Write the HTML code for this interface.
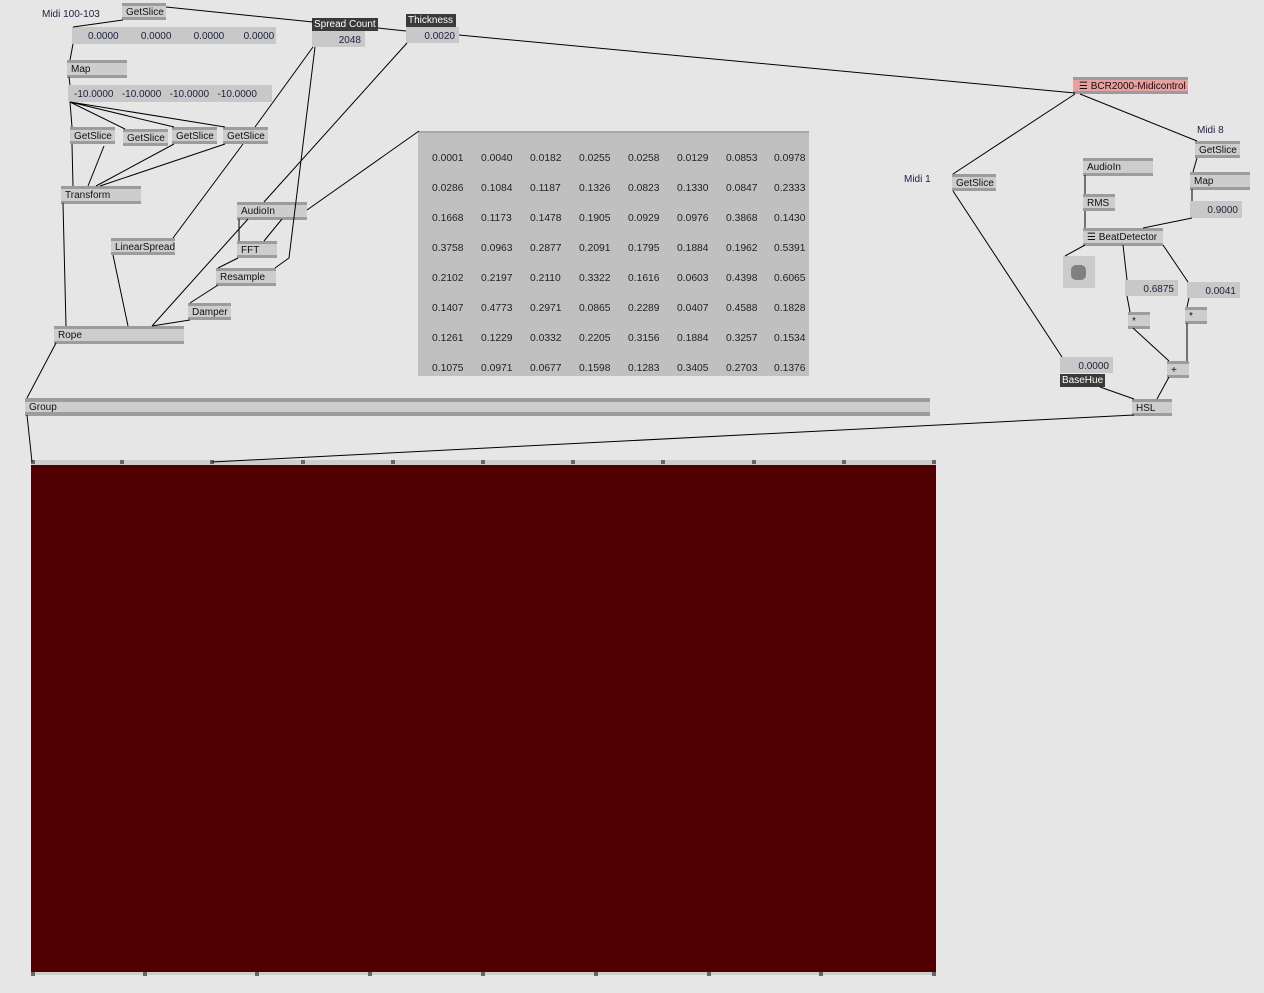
<!DOCTYPE html>
<html><head><meta charset="utf-8"><style>
body{margin:0;width:1264px;height:993px;background:#e6e6e6;position:relative;overflow:hidden;font-family:"Liberation Sans","DejaVu Sans",sans-serif;font-size:10px;color:#111}
.n{position:absolute;background:#cdcdcd;border-top:3px solid #9c9c9c;border-bottom:3px solid #9c9c9c;box-sizing:border-box;padding-left:4px;padding-top:1px;line-height:11px;white-space:nowrap}
.io{position:absolute;background:#c8c8c8;box-sizing:border-box;text-align:right;padding-right:4px;padding-top:2px;line-height:15px;white-space:nowrap;color:#1a2040}
.lab{position:absolute;background:#3a3a3a;color:#fff;padding:0 2px;line-height:13px;white-space:nowrap}
.t{position:absolute;white-space:nowrap;color:#1a2040}
svg{position:absolute;left:0;top:0}
.tb{position:absolute;left:418px;top:131px;width:391px;height:245px;background:#c0c0c0;border-top:2px solid #a8a8a8;box-sizing:border-box}
.tb span{position:absolute;color:#222;font-size:10.3px}
.pin{position:absolute;width:4px;height:4px;background:#666}
</style></head><body>
<div class="t" style="left:42px;top:9px">Midi 100-103</div>
<div class="n" style="left:122px;top:3px;width:44px;height:17px">GetSlice</div>
<div class="io" style="left:72px;top:27px;width:204px;height:17px;text-align:left;padding-left:16px;word-spacing:0">0.0000&nbsp;&nbsp;&nbsp;&nbsp;&nbsp;&nbsp;&nbsp;&nbsp;0.0000&nbsp;&nbsp;&nbsp;&nbsp;&nbsp;&nbsp;&nbsp;&nbsp;0.0000&nbsp;&nbsp;&nbsp;&nbsp;&nbsp;&nbsp;&nbsp;0.0000</div>
<div class="n" style="left:67px;top:60px;width:60px;height:18px">Map</div>
<div class="io" style="left:68px;top:85px;width:204px;height:17px;text-align:left;padding-left:6px">-10.0000&nbsp;&nbsp;&nbsp;-10.0000&nbsp;&nbsp;&nbsp;-10.0000&nbsp;&nbsp;&nbsp;-10.0000</div>
<div class="n" style="left:70px;top:127px;width:45px;height:17px">GetSlice</div>
<div class="n" style="left:123px;top:129px;width:45px;height:17px">GetSlice</div>
<div class="n" style="left:172px;top:127px;width:45px;height:17px">GetSlice</div>
<div class="n" style="left:223px;top:127px;width:45px;height:17px">GetSlice</div>
<div class="n" style="left:61px;top:186px;width:80px;height:18px">Transform</div>
<div class="n" style="left:111px;top:238px;width:64px;height:17px">LinearSpread</div>
<div class="n" style="left:237px;top:202px;width:70px;height:18px">AudioIn</div>
<div class="n" style="left:237px;top:241px;width:40px;height:17px">FFT</div>
<div class="n" style="left:216px;top:268px;width:60px;height:18px">Resample</div>
<div class="n" style="left:188px;top:303px;width:43px;height:17px">Damper</div>
<div class="n" style="left:54px;top:326px;width:130px;height:18px">Rope</div>
<div class="lab" style="left:312px;top:18px;width:62px">Spread Count</div>
<div class="io" style="left:312px;top:31px;width:53px;height:16px">2048</div>
<div class="lab" style="left:406px;top:14px;width:46px">Thickness</div>
<div class="io" style="left:406px;top:27px;width:53px;height:16px">0.0020</div>
<div class="tb">
<span style="left:14px;top:20px">0.0001</span><span style="left:63px;top:20px">0.0040</span><span style="left:112px;top:20px">0.0182</span><span style="left:161px;top:20px">0.0255</span><span style="left:210px;top:20px">0.0258</span><span style="left:259px;top:20px">0.0129</span><span style="left:308px;top:20px">0.0853</span><span style="left:356px;top:20px">0.0978</span>
<span style="left:14px;top:50px">0.0286</span><span style="left:63px;top:50px">0.1084</span><span style="left:112px;top:50px">0.1187</span><span style="left:161px;top:50px">0.1326</span><span style="left:210px;top:50px">0.0823</span><span style="left:259px;top:50px">0.1330</span><span style="left:308px;top:50px">0.0847</span><span style="left:356px;top:50px">0.2333</span>
<span style="left:14px;top:80px">0.1668</span><span style="left:63px;top:80px">0.1173</span><span style="left:112px;top:80px">0.1478</span><span style="left:161px;top:80px">0.1905</span><span style="left:210px;top:80px">0.0929</span><span style="left:259px;top:80px">0.0976</span><span style="left:308px;top:80px">0.3868</span><span style="left:356px;top:80px">0.1430</span>
<span style="left:14px;top:110px">0.3758</span><span style="left:63px;top:110px">0.0963</span><span style="left:112px;top:110px">0.2877</span><span style="left:161px;top:110px">0.2091</span><span style="left:210px;top:110px">0.1795</span><span style="left:259px;top:110px">0.1884</span><span style="left:308px;top:110px">0.1962</span><span style="left:356px;top:110px">0.5391</span>
<span style="left:14px;top:140px">0.2102</span><span style="left:63px;top:140px">0.2197</span><span style="left:112px;top:140px">0.2110</span><span style="left:161px;top:140px">0.3322</span><span style="left:210px;top:140px">0.1616</span><span style="left:259px;top:140px">0.0603</span><span style="left:308px;top:140px">0.4398</span><span style="left:356px;top:140px">0.6065</span>
<span style="left:14px;top:170px">0.1407</span><span style="left:63px;top:170px">0.4773</span><span style="left:112px;top:170px">0.2971</span><span style="left:161px;top:170px">0.0865</span><span style="left:210px;top:170px">0.2289</span><span style="left:259px;top:170px">0.0407</span><span style="left:308px;top:170px">0.4588</span><span style="left:356px;top:170px">0.1828</span>
<span style="left:14px;top:200px">0.1261</span><span style="left:63px;top:200px">0.1229</span><span style="left:112px;top:200px">0.0332</span><span style="left:161px;top:200px">0.2205</span><span style="left:210px;top:200px">0.3156</span><span style="left:259px;top:200px">0.1884</span><span style="left:308px;top:200px">0.3257</span><span style="left:356px;top:200px">0.1534</span>
<span style="left:14px;top:230px">0.1075</span><span style="left:63px;top:230px">0.0971</span><span style="left:112px;top:230px">0.0677</span><span style="left:161px;top:230px">0.1598</span><span style="left:210px;top:230px">0.1283</span><span style="left:259px;top:230px">0.3405</span><span style="left:356px;top:230px">0.1376</span><span style="left:308px;top:230px">0.2703</span>
</div>
<div class="n" style="left:25px;top:398px;width:905px;height:18px;border-width:4px;padding-top:0">Group</div>
<div style="position:absolute;left:31px;top:460px;width:905px;height:5px;background:#cdcdcd"></div>
<div style="position:absolute;left:31px;top:465px;width:905px;height:507px;background:#500000"></div>
<div style="position:absolute;left:31px;top:972px;width:905px;height:3px;background:#cdcdcd"></div>
<div class="pin" style="left:31px;top:460px"></div><div class="pin" style="left:120px;top:460px"></div><div class="pin" style="left:210px;top:460px"></div><div class="pin" style="left:301px;top:460px"></div><div class="pin" style="left:391px;top:460px"></div><div class="pin" style="left:481px;top:460px"></div><div class="pin" style="left:571px;top:460px"></div><div class="pin" style="left:661px;top:460px"></div><div class="pin" style="left:752px;top:460px"></div><div class="pin" style="left:842px;top:460px"></div><div class="pin" style="left:932px;top:460px"></div>
<div class="pin" style="left:31px;top:972px"></div><div class="pin" style="left:143px;top:972px"></div><div class="pin" style="left:255px;top:972px"></div><div class="pin" style="left:368px;top:972px"></div><div class="pin" style="left:481px;top:972px"></div><div class="pin" style="left:594px;top:972px"></div><div class="pin" style="left:707px;top:972px"></div><div class="pin" style="left:819px;top:972px"></div><div class="pin" style="left:932px;top:972px"></div>

<div class="n" style="left:1073px;top:77px;width:115px;height:17px;background:#e8a0a0;padding-left:6px">☰ BCR2000-Midicontrol</div>
<div class="t" style="left:1197px;top:125px">Midi 8</div>
<div class="n" style="left:1195px;top:141px;width:45px;height:17px">GetSlice</div>
<div class="n" style="left:1190px;top:172px;width:60px;height:18px">Map</div>
<div class="io" style="left:1190px;top:201px;width:52px;height:17px">0.9000</div>
<div class="t" style="left:904px;top:174px">Midi 1</div>
<div class="n" style="left:952px;top:174px;width:44px;height:17px">GetSlice</div>
<div class="n" style="left:1083px;top:158px;width:70px;height:18px">AudioIn</div>
<div class="n" style="left:1083px;top:194px;width:32px;height:17px">RMS</div>
<div class="n" style="left:1083px;top:228px;width:80px;height:18px">☰ BeatDetector</div>
<div style="position:absolute;left:1063px;top:256px;width:32px;height:32px;background:#cbcbcb"><div style="position:absolute;left:8px;top:9px;width:15px;height:15px;border-radius:5px;background:#808080"></div></div>
<div class="io" style="left:1125px;top:280px;width:53px;height:16px">0.6875</div>
<div class="io" style="left:1187px;top:282px;width:53px;height:16px">0.0041</div>
<div class="n" style="left:1128px;top:312px;width:22px;height:17px">*</div>
<div class="n" style="left:1185px;top:307px;width:22px;height:17px">*</div>
<div class="n" style="left:1167px;top:361px;width:22px;height:17px">+</div>
<div class="io" style="left:1060px;top:357px;width:53px;height:16px">0.0000</div>
<div class="lab" style="left:1060px;top:374px">BaseHue</div>
<div class="n" style="left:1132px;top:399px;width:40px;height:17px">HSL</div>

<svg width="1264" height="993" stroke="#000" stroke-width="1" fill="none">
<path d="M166 7L313 22M378 28L406 31M459 35L1075 93M123 20L73 27M73 44L70 60M69 77L70 85
M70 102L72 127M70 102L125 129M70 102L174 127M70 102L225 127
M72 144L73 186M104 146L88 186M174 144L96 186M225 144L100 186
M313 47L255 127M315 47L289 258L275 268M407 43L264 202M419 131L307 210M243 144L173 238
M239 219L239 241M282 219L264 241M248 219L152 326M238 258L218 268M218 285L190 303M190 320L152 326
M113 255L128 326M63 203L66 326M56 343L27 398M27 415L32 462M1134 415L212 462
M1075 94L953 174M1080 94L1197 141M953 191L1062 357M1197 158L1193 172M1192 189L1192 201M1192 218L1143 228
M1085 175L1085 194M1085 211L1085 228M1085 245L1065 256M1123 245L1127 280M1163 245L1188 282
M1127 296L1130 312M1189 298L1187 307M1133 328L1169 361M1187 323L1187 361M1169 377L1157 399M1100 387L1134 399"/>
</svg>
</body></html>
